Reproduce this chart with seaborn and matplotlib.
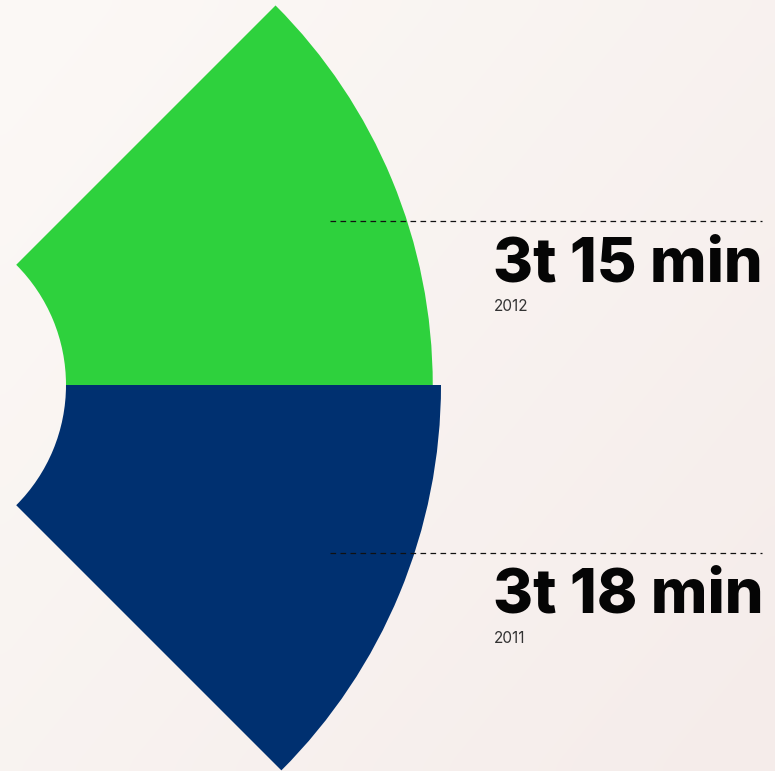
import numpy as np
import matplotlib
matplotlib.use("Agg")
import matplotlib.pyplot as plt
from matplotlib.patches import Wedge
import seaborn as sns

# Average time per year (minutes) and their labels
years = ["2012", "2011"]
minutes = [195, 198]
labels = ["3t 15 min", "3t 18 min"]
colors = ["#2ed13d", "#003070"]

sns.set_theme(style="white")
plt.rcParams["font.family"] = ["Inter", "DejaVu Sans"]

W, H = 775, 771
fig = plt.figure(figsize=(W / 100, H / 100), dpi=100)
ax = fig.add_axes([0, 0, 1, 1])

# pixel-like coordinates; the fan centre sits 104 px left of the canvas
off, cy = 104, 385
x0, x1 = off, W + off
y0, y1 = -(H - cy), cy
ax.set_xlim(x0, x1)
ax.set_ylim(y0, y1)
ax.set_axis_off()

# soft warm background gradient
gx, gy = np.meshgrid(np.linspace(0, 1, 64), np.linspace(0, 1, 64))
t = np.clip(0.55 * gx + 0.45 * gy, 0, 1)
top = np.array([252, 249, 246]) / 255
bot = np.array([245, 236, 234]) / 255
bg = top[None, None, :] * (1 - t[..., None]) + bot[None, None, :] * t[..., None]
ax.imshow(bg, extent=(x0, x1, y0, y1), origin="upper",
          aspect="auto", zorder=0, interpolation="bicubic")

scale = 545 / 198.0   # pixels per minute
inner = 170           # hole radius

spans = [(0, 45), (-45, 0)]
for (t1, t2), m, c in zip(spans, minutes, colors):
    r = m * scale
    ax.add_patch(Wedge((0, 0), r, t1, t2, width=r - inner,
                       facecolor=c, edgecolor="none", zorder=2))

# leader lines and value labels
sign = [1, -1]
for s, m, lab, yr in zip(sign, minutes, labels, years):
    r = m * scale
    y = s * 0.8 * r * np.sin(np.radians(22.5)) - 0.8
    ax.plot([434, 866], [y, y], color="#111111", lw=0.9,
            dashes=(4.5, 3.5), zorder=3)
    ax.text(597, y - 15, lab, fontsize=44, fontweight="heavy",
            color="#050505", ha="left", va="top", zorder=4)
    ax.text(598, y - 78, yr, fontsize=11, color="#333333",
            ha="left", va="top", zorder=4)

fig.savefig("out.png", dpi=100)
